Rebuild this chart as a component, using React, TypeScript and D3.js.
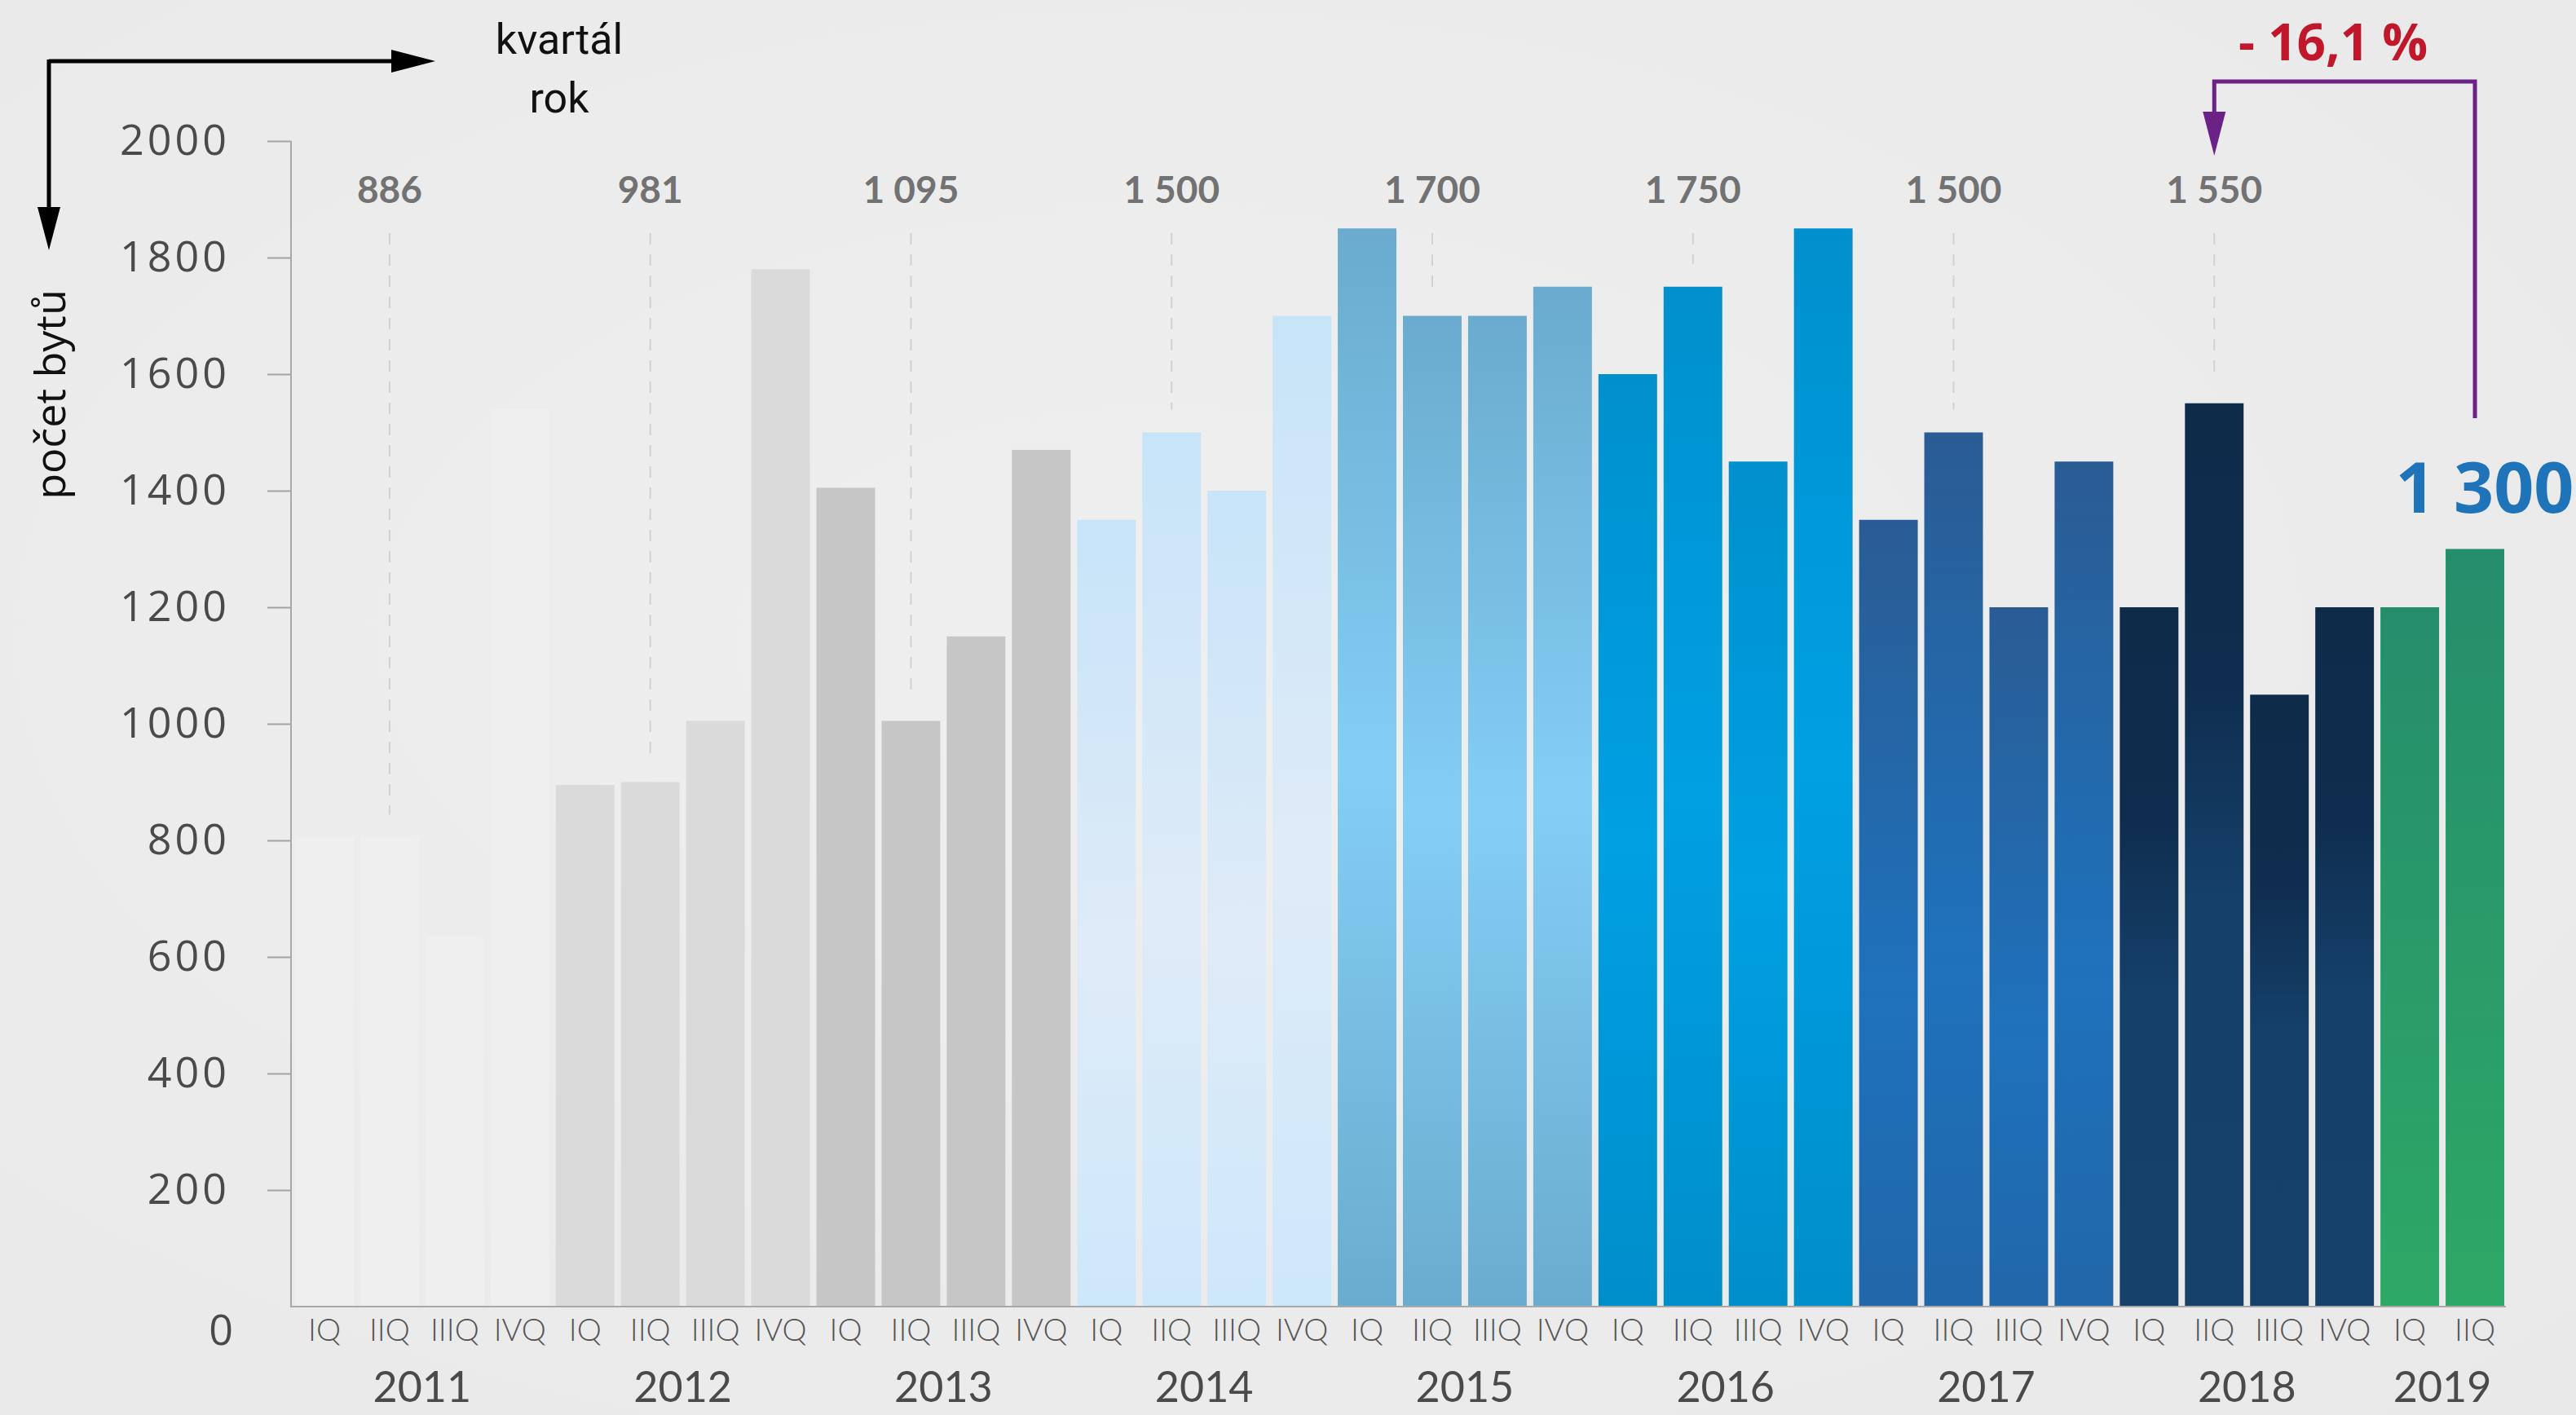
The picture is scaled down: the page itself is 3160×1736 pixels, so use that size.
import React, { useEffect, useRef } from "react";
import * as d3 from "d3";

// quarterly number of sold flats, 2011 IQ .. 2019 IIQ
const years = ["2011", "2012", "2013", "2014", "2015", "2016", "2017", "2018", "2019"];
const quarters = ["IQ", "IIQ", "IIIQ", "IVQ"];
const flats = [
  805, 805, 635, 1540,
  895, 900, 1005, 1780,
  1405, 1005, 1150, 1470,
  1350, 1500, 1400, 1700,
  1850, 1700, 1700, 1750,
  1600, 1750, 1450, 1850,
  1350, 1500, 1200, 1450,
  1200, 1550, 1050, 1200,
  1200, 1300,
];
// yearly labels shown above the IIQ bar of each year
const yearLabels = ["886", "981", "1 095", "1 500", "1 700", "1 750", "1 500", "1 550"];
const yTicks = [0, 200, 400, 600, 800, 1000, 1200, 1400, 1600, 1800, 2000];
const changeLabel = "- 16,1 %";
const lastLabel = "1 300";

// vertical gradient stops per year [offset, colour]
const yearColors: Record<string, [number, string][]> = {
  "2011": [[0, "#efefef"], [1, "#efefef"]],
  "2012": [[0, "#dadada"], [1, "#dadada"]],
  "2013": [[0, "#c6c6c6"], [1, "#c6c6c6"]],
  "2014": [[0, "#c7e4f8"], [0.55, "#dfebf8"], [1, "#cde8fa"]],
  "2015": [[0, "#6aabcf"], [0.5, "#84cef4"], [1, "#6aaccf"]],
  "2016": [[0, "#0090cd"], [0.5, "#00a0e3"], [1, "#008ecb"]],
  "2017": [[0, "#2a5c94"], [0.6, "#1e72bc"], [1, "#2167a9"]],
  "2018": [[0, "#0e2b4a"], [0.3, "#0f2d4e"], [0.55, "#15406a"], [1, "#15416b"]],
  "2019": [[0, "#258d6c"], [1, "#2ea866"]],
};

const W = 3160, H = 1736;

function drawChart(el: SVGSVGElement) {
  const svg = d3.select(el);
  svg.selectAll("*").remove();

  const bars = flats.map((v, i) => ({
    key: years[Math.floor(i / 4)] + "-" + quarters[i % 4],
    year: years[Math.floor(i / 4)],
    q: quarters[i % 4],
    value: v,
  }));

  const x = d3.scaleBand<string>()
    .domain(bars.map(d => d.key))
    .range([358, 3076])
    .paddingInner(0.1)
    .paddingOuter(0.05);
  const y = d3.scaleLinear().domain([0, 2000]).range([1603, 173]);
  const cx = (k: string) => (x(k) as number) + x.bandwidth() / 2;

  const defs = svg.append("defs");
  const bg = defs.append("radialGradient").attr("id", "bg")
    .attr("cx", "0.45").attr("cy", "0.45").attr("r", "0.75");
  bg.append("stop").attr("offset", "0%").attr("stop-color", "#efefef");
  bg.append("stop").attr("offset", "100%").attr("stop-color", "#e9e9e9");

  years.forEach(yr => {
    const g = defs.append("linearGradient").attr("id", "g" + yr)
      .attr("x1", 0).attr("y1", 0).attr("x2", 0).attr("y2", 1);
    yearColors[yr].forEach(([o, c]) => {
      g.append("stop").attr("offset", o).attr("stop-color", c);
    });
  });

  svg.append("rect").attr("width", W).attr("height", H).attr("fill", "url(#bg)");

  // bars
  svg.append("g").selectAll("rect").data(bars).join("rect")
    .attr("x", d => x(d.key) as number)
    .attr("y", d => y(d.value))
    .attr("width", x.bandwidth())
    .attr("height", d => y(0) - y(d.value))
    .attr("fill", d => "url(#g" + d.year + ")");

  // dashed guides + yearly labels
  const iiq = bars.filter(d => d.q === "IIQ").slice(0, yearLabels.length);
  svg.append("g").selectAll("line").data(iiq).join("line")
    .attr("x1", d => cx(d.key)).attr("x2", d => cx(d.key))
    .attr("y1", 286).attr("y2", d => y(d.value) - 28)
    .attr("stroke", "#d2d2d2").attr("stroke-width", 2)
    .attr("stroke-dasharray", "14 12");
  svg.append("g").selectAll("text").data(iiq).join("text")
    .attr("x", d => cx(d.key)).attr("y", 249)
    .attr("text-anchor", "middle")
    .attr("font-family", "Lato, sans-serif").attr("font-weight", 700)
    .attr("font-size", 46).attr("fill", "#727272")
    .text((d, i) => yearLabels[i]);

  // y axis
  const yAxis = svg.append("g").attr("transform", "translate(357,0)")
    .call(d3.axisLeft(y).tickValues(yTicks).tickSize(29).tickPadding(46).tickFormat(d3.format("d")));
  yAxis.select(".domain").remove();
  yAxis.selectAll(".tick line").attr("stroke", "#a3a3a3").attr("stroke-width", 2);
  yAxis.selectAll(".tick text")
    .attr("font-family", "'Open Sans', sans-serif").attr("font-size", 52)
    .attr("letter-spacing", 4).attr("fill", "#4a4a4a");
  const zero = yAxis.selectAll(".tick").filter(d => d === 0);
  zero.select("line").remove();
  zero.select("text").attr("x", -67).attr("y", 30);

  svg.append("path")
    .attr("d", `M357,${y(2000)}V${y(0)}H3074`)
    .attr("fill", "none").attr("stroke", "#a8a8a8").attr("stroke-width", 2);

  // x axis: quarters
  const xAxis = svg.append("g").attr("transform", `translate(0,${y(0)})`)
    .call(d3.axisBottom(x).tickSize(0).tickPadding(15).tickFormat(k => k.split("-")[1]));
  xAxis.select(".domain").remove();
  xAxis.selectAll(".tick text")
    .attr("font-family", "Lato, sans-serif").attr("font-weight", 300)
    .attr("font-size", 38).attr("fill", "#555");

  // years
  svg.append("g").selectAll("text").data(years).join("text")
    .attr("x", yr => d3.mean(bars.filter(b => b.year === yr), b => cx(b.key)) as number)
    .attr("y", 1720)
    .attr("text-anchor", "middle")
    .attr("font-family", "Lato, sans-serif").attr("font-size", 52)
    .attr("fill", "#4a4a4a")
    .text(yr => yr);

  // axis direction arrows
  const ax = svg.append("g");
  ax.append("path").attr("d", "M60,75H484M60,73V258")
    .attr("stroke", "#000").attr("stroke-width", 5).attr("fill", "none");
  ax.append("path").attr("d", "M480,61L534,75L480,89Z").attr("fill", "#000");
  ax.append("path").attr("d", "M46,254L60,307L74,254Z").attr("fill", "#000");
  ax.append("text").attr("x", 686).attr("y", 66).attr("text-anchor", "middle")
    .attr("font-family", "Roboto, sans-serif").attr("font-size", 52).attr("fill", "#111")
    .text("kvartál");
  ax.append("text").attr("x", 686).attr("y", 138).attr("text-anchor", "middle")
    .attr("font-family", "Roboto, sans-serif").attr("font-size", 52).attr("fill", "#111")
    .text("rok");
  ax.append("text").attr("transform", "translate(80,484) rotate(-90)")
    .attr("text-anchor", "middle")
    .attr("font-family", "'Open Sans', sans-serif").attr("font-size", 52).attr("fill", "#111")
    .text("počet bytů");

  // change annotation
  const last = bars[bars.length - 1];
  const prev = bars[bars.length - 5];
  const xl = cx(prev.key), xr = cx(last.key);
  const ann = svg.append("g");
  ann.append("path").attr("d", `M${xr},513V100H${xl}V140`)
    .attr("fill", "none").attr("stroke", "#6b2287").attr("stroke-width", 5);
  ann.append("path").attr("d", `M${xl - 14},137L${xl},191L${xl + 14},137Z`).attr("fill", "#6b2287");
  ann.append("text").attr("x", (xl + xr) / 2 - 14).attr("y", 74).attr("text-anchor", "middle")
    .attr("font-family", "'Open Sans', sans-serif").attr("font-weight", 700)
    .attr("font-size", 62).attr("fill", "#c0172b")
    .text(changeLabel);
  ann.append("text").attr("x", xr + 12).attr("y", 629).attr("text-anchor", "middle")
    .attr("font-family", "'Open Sans', sans-serif").attr("font-weight", 700)
    .attr("font-size", 86).attr("fill", "#1f73b9")
    .text(lastLabel);
}

export default function App() {
  const ref = useRef<SVGSVGElement>(null);
  useEffect(() => {
    document.body.style.margin = "0";
    document.body.style.overflow = "hidden";
    if (ref.current) drawChart(ref.current);
  }, []);
  return (
    <svg ref={ref} width={W} height={H}
      style={{ position: "absolute", left: 0, top: 0, display: "block" }} />
  );
}
